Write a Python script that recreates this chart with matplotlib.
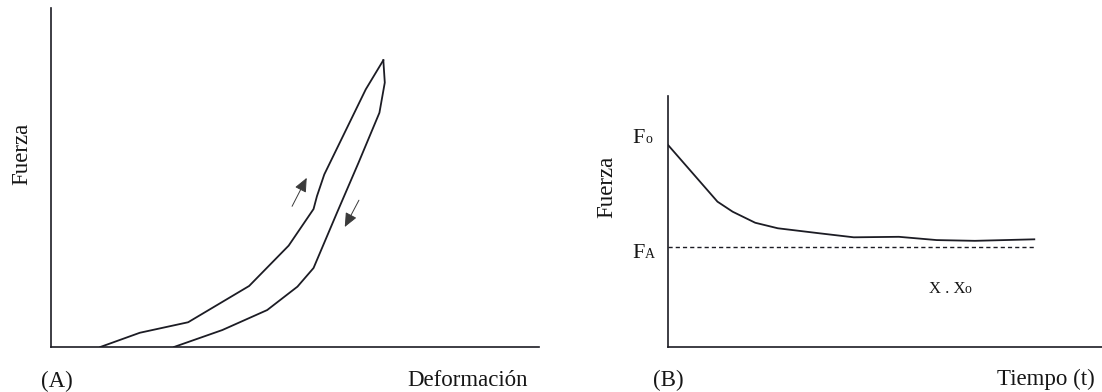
import matplotlib.pyplot as plt

plt.rcParams['font.family'] = ['Liberation Serif', 'DejaVu Serif']

# (A) loading / unloading cycle, deformation vs force (arbitrary units 0-100)
load_x = [10.1, 18.2, 28.1, 40.6, 48.7, 53.8, 54.5, 56.0, 64.5, 68.1]
load_y = [0.0, 4.2, 7.3, 18.0, 29.9, 40.7, 44.5, 50.9, 76.0, 84.6]
unload_x = [68.1, 68.4, 67.3, 63.0, 58.6, 53.8, 50.5, 44.3, 35.1, 25.2]
unload_y = [84.6, 78.0, 69.1, 54.3, 39.6, 23.3, 17.8, 10.9, 5.0, 0.0]
arrow_up = [(49.4, 41.5), (52.4, 49.9)]
arrow_down = [(63.1, 43.3), (60.2, 35.4)]

# (B) stress relaxation, force vs time
t = [0.0, 5.4, 11.4, 14.9, 20.1, 25.3, 34.9, 42.8, 53.2, 61.9, 70.7, 84.4]
force = [80.5, 69.8, 57.9, 53.9, 49.5, 47.3, 45.3, 43.7, 43.9, 42.6, 42.3, 42.9]
F0 = 80.5
FA = 40.0

W, H = 1102, 392
ink = '#1c1c24'
txt = '#161616'

fig = plt.figure(figsize=(W / 100, H / 100), dpi=100)


def px_axes(left, top, right, bottom):
    return fig.add_axes([left / W, 1 - bottom / H, (right - left) / W, (bottom - top) / H])


def style(ax):
    for s in ['top', 'right']:
        ax.spines[s].set_visible(False)
    for s in ['left', 'bottom']:
        ax.spines[s].set_color(ink)
        ax.spines[s].set_linewidth(1.2)
    ax.set_xticks([])
    ax.set_yticks([])
    ax.set_xlim(0, 100)
    ax.set_ylim(0, 100)
    ax.patch.set_alpha(0)


axA = px_axes(51, 8, 539, 347)
style(axA)
axA.plot(load_x, load_y, color=ink, lw=1.3, solid_joinstyle='round')
axA.plot(unload_x, unload_y, color=ink, lw=1.3, solid_joinstyle='round')
for (x0, y0), (x1, y1) in [arrow_up, arrow_down]:
    axA.annotate('', xy=(x1, y1), xytext=(x0, y0),
                 arrowprops=dict(arrowstyle='-|>,head_length=0.5,head_width=0.22',
                                 color='#3a3a3a', lw=0.7,
                                 mutation_scale=17, shrinkA=0, shrinkB=0))

axB = px_axes(668, 96, 1102, 347)
style(axB)
axB.plot(t, force, color=ink, lw=1.3, solid_joinstyle='round')
axB.plot([0, t[-1]], [FA, FA], color=ink, lw=1.0, linestyle=(0, (3, 2.2)))


def sub_label(ax, x, y, big, small, size=16, small_size=10, dx=9):
    ax.text(x, y, big, fontsize=size, color=txt, va='baseline', ha='left', clip_on=False)
    ax.annotate(small, xy=(x, y), xytext=(dx, 0), textcoords='offset points',
                fontsize=small_size, color=txt, va='baseline', ha='left',
                annotation_clip=False)


sub_label(axB, -8.1, 81.3, 'F', 'o', small_size=10)
sub_label(axB, -8.1, 35.5, 'F', 'A', small_size=10)
sub_label(axB, 60.1, 21.5, 'X . X', 'o', size=12, small_size=10, dx=25.5)

fig.text(22 / W, 1 - 154 / H, 'Fuerza', rotation=90, fontsize=16.5, color=txt,
         ha='center', va='center')
fig.text(607 / W, 1 - 187 / H, 'Fuerza', rotation=90, fontsize=16.5, color=txt,
         ha='center', va='center')
fig.text(41 / W, 1 - 387 / H, '(A)', fontsize=16.5, color=txt, ha='left', va='baseline')
fig.text(653 / W, 1 - 386 / H, '(B)', fontsize=16.5, color=txt, ha='left', va='baseline')
fig.text(528 / W, 1 - 386 / H, 'Deformación', fontsize=16.5, color=txt, ha='right', va='baseline')
fig.text(1095 / W, 1 - 385 / H, 'Tiempo (t)', fontsize=16.5, color=txt, ha='right', va='baseline')

fig.savefig('out.png', dpi=100, facecolor='white')
